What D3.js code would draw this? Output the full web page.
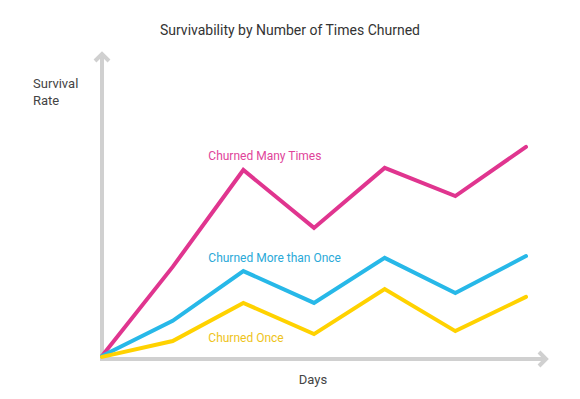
<!DOCTYPE html>
<html><head><meta charset="utf-8">
<script src="https://cdn.jsdelivr.net/npm/d3@7"></script>
<style>body{margin:0;background:#fff;} text{font-family:Roboto,"Noto Sans",sans-serif;}</style>
</head><body>
<svg id="c" width="580" height="399"></svg>
<script>
const days = [0,1,2,3,4,5,6];
const manyTimes = [0,29.7,62,42.7,62.7,53.3,69.7];
const moreThanOnce = [0,11.7,28.3,17.7,32.7,21,33.3];
const once = [-0.3,5,17.7,7.3,22.3,8.3,19.7];
const seriesNames = ["Churned Many Times","Churned More than Once","Churned Once"];
const seriesColors = ["#e0358f","#27b8e8","#ffd200"];
const labelColors = ["#e0449a","#2aa9d8","#eec31a"];
const labelPos = [[2,65.5],[2,31.3],[2,4.7]];

const svg = d3.select("#c");
const x = d3.scaleLinear().domain([0,6]).range([102,526]);
const y = d3.scaleLinear().domain([0,100]).range([356,56]);

const axisColor = "#d0d0d0";
svg.append("line").attr("x1",102).attr("y1",361).attr("x2",102).attr("y2",55)
  .attr("stroke",axisColor).attr("stroke-width",4);
svg.append("polyline").attr("points","95,61 102,54 109,61").attr("fill","none")
  .attr("stroke",axisColor).attr("stroke-width",4);
svg.append("line").attr("x1",100).attr("y1",359).attr("x2",545).attr("y2",359)
  .attr("stroke",axisColor).attr("stroke-width",4);
svg.append("polyline").attr("points","539,352 546,359 539,366").attr("fill","none")
  .attr("stroke",axisColor).attr("stroke-width",4);

const data = [manyTimes, moreThanOnce, once];
const line = d3.line().x((d,i)=>x(days[i])).y(d=>y(d));
data.forEach((s,k)=>{
  svg.append("path").datum(s).attr("d",line).attr("fill","none")
    .attr("stroke",seriesColors[k]).attr("stroke-width",4)
    .attr("stroke-linejoin","miter").attr("stroke-linecap","round");
});
seriesNames.forEach((n,k)=>{
  svg.append("text").attr("x",x(labelPos[k][0])-35).attr("y",y(labelPos[k][1]))
    .attr("fill",labelColors[k]).attr("font-size",12).text(n);
});

svg.append("text").attr("x",290).attr("y",35).attr("text-anchor","middle")
  .attr("font-size",14).attr("fill","#333").text("Survivability by Number of Times Churned");
svg.append("text").attr("x",33).attr("y",88).attr("font-size",13).attr("fill","#444").text("Survival");
svg.append("text").attr("x",33).attr("y",105).attr("font-size",13).attr("fill","#444").text("Rate");
svg.append("text").attr("x",313).attr("y",384).attr("text-anchor","middle")
  .attr("font-size",13).attr("fill","#444").text("Days");
</script>
</body></html>
